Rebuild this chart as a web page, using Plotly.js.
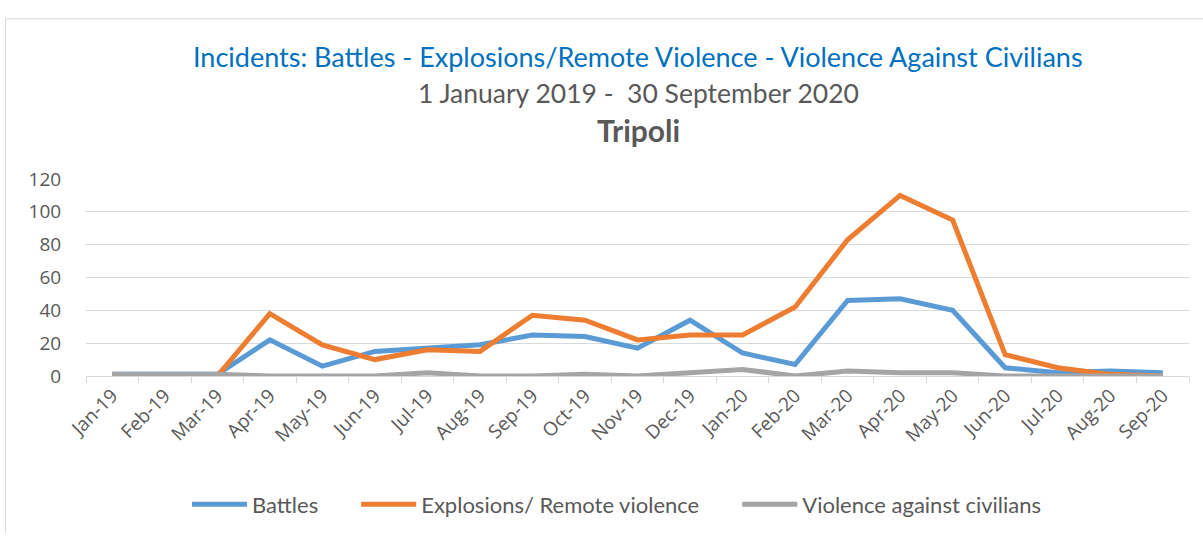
<!DOCTYPE html>
<html>
<head>
<meta charset="utf-8">
<script src="https://cdn.plot.ly/plotly-3.0.1.min.js"></script>
<style>
html,body{margin:0;padding:0;background:#fff;}
#chart{width:1203px;height:537px;}
</style>
</head>
<body>
<div id="chart"></div>
<script>
const months = ["Jan-19","Feb-19","Mar-19","Apr-19","May-19","Jun-19","Jul-19","Aug-19","Sep-19","Oct-19","Nov-19","Dec-19","Jan-20","Feb-20","Mar-20","Apr-20","May-20","Jun-20","Jul-20","Aug-20","Sep-20"];
const battles = [1,1,1,22,6,15,17,19,25,24,17,34,14,7,46,47,40,5,2,3,2];
const explosions = [0,0,0,38,19,10,16,15,37,34,22,25,25,42,83,110,95,13,5,1,0];
const civilians = [1,1,1,0,0,0,2,0,0,1,0,2,4,0,3,2,2,0,0,0,0];
const seriesNames = ["Battles","Explosions/ Remote violence","Violence against civilians"];
const yTicks = [0,20,40,60,80,100,120];

const titleFont = "Lato, 'Open Sans', sans-serif";
const gap = '\u2003\u2003';
const mk = (y, name, color) => ({
  x: months, y: y, name: name, type: 'scatter', mode: 'lines',
  line: {color: color, width: 5, shape: 'linear'}, hoverinfo: 'skip'
});
const data = [
  mk(battles, seriesNames[0] + gap, '#5B9BD5'),
  mk(explosions, seriesNames[1] + gap, '#ED7D31'),
  mk(civilians, seriesNames[2], '#A5A5A5')
];
// plot area: x 86..1189, y 179..380
const L=86, R=1189, T=179, B=380, W=1203, H=537;
const px = v => (v - L)/(R - L);
const py = v => (B - v)/(B - T);
const layout = {
  width: W, height: H,
  margin: {l: L, r: W - R, t: T, b: H - B, pad: 0},
  paper_bgcolor: '#fff', plot_bgcolor: '#fff',
  showlegend: true,
  legend: {orientation: 'h', x: px(617), xanchor: 'center', y: py(511), yanchor: 'middle',
    font: {family: titleFont, size: 22, color: '#595959'}, itemwidth: 55, tracegroupgap: 0},
  xaxis: {type: 'category', range: [-0.5, 20.5], tickangle: -45, tickson: 'boundaries',
    ticks: 'outside', ticklen: 6, tickcolor: '#D9D9D9', showline: true, linecolor: '#D9D9D9', linewidth: 1,
    showgrid: false, zeroline: false, fixedrange: true,
    tickfont: {family: "'Open Sans', sans-serif", size: 19, color: '#595959'}},
  yaxis: {range: [0, 120], tickvals: yTicks, ticktext: yTicks.map(String), showgrid: true, gridcolor: '#D9D9D9', gridwidth: 1,
    zeroline: false, showline: false, ticks: 'outside', ticklen: 20, tickcolor: 'rgba(0,0,0,0)', fixedrange: true,
    tickfont: {family: "'Open Sans', sans-serif", size: 19, color: '#595959'}},
  annotations: [
    {text: 'Incidents: Battles - Explosions/Remote Violence - Violence Against Civilians', xref: 'paper', yref: 'paper',
     x: px(638), y: py(54), xanchor: 'center', yanchor: 'middle', showarrow: false,
     font: {family: titleFont, size: 27, color: '#0070C0'}},
    {text: '1 January 2019 -  30 September 2020', xref: 'paper', yref: 'paper',
     x: px(638), y: py(91), xanchor: 'center', yanchor: 'middle', showarrow: false,
     font: {family: titleFont, size: 26.5, color: '#595959'}},
    {text: '<b>Tripoli</b>', xref: 'paper', yref: 'paper',
     x: px(638), y: py(129), xanchor: 'center', yanchor: 'middle', showarrow: false,
     font: {family: titleFont, size: 30, color: '#595959'}}
  ],
  shapes: [
    {type: 'line', xref: 'paper', yref: 'paper', x0: px(5.5), x1: px(5.5), y0: py(15), y1: py(540), line: {color: '#D9D9D9', width: 1}},
    {type: 'line', xref: 'paper', yref: 'paper', x0: px(5), x1: px(1210), y0: py(15.5), y1: py(15.5), line: {color: '#D9D9D9', width: 1}}
  ]
};
Plotly.newPlot('chart', data, layout, {displayModeBar: false, staticPlot: true});
</script>
</body>
</html>
